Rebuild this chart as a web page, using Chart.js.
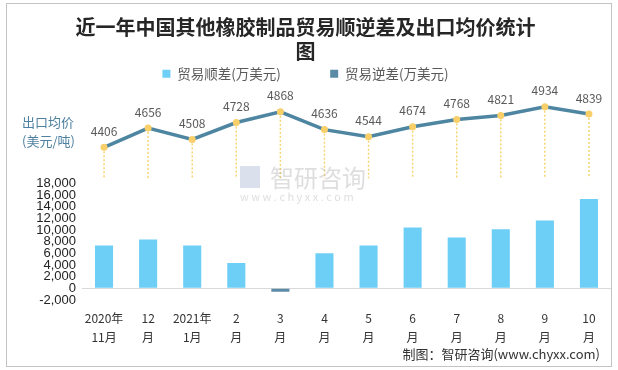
<!DOCTYPE html>
<html>
<head>
<meta charset="utf-8">
<script src="https://cdn.jsdelivr.net/npm/chart.js@4.4.1/dist/chart.umd.min.js"></script>
<style>
  html, body { margin: 0; padding: 0; background: #fff; }
  #wrap { width: 618px; height: 370px; position: relative; }
</style>
</head>
<body>
<div id="wrap"><canvas id="c" width="618" height="370"></canvas></div>
<script>
// months shown on the x axis (two lines each)
const months = [
    ['2020年', '11月'], ['12', '月'], ['2021年', '1月'], ['2', '月'], ['3', '月'], ['4', '月'],
    ['5', '月'], ['6', '月'], ['7', '月'], ['8', '月'], ['9', '月'], ['10', '月']
];
// trade surplus / deficit, 10k USD
const surplus = [7350, 8400, 7350, 4350, null, 6050, 7350, 10450, 8750, 10150, 11650, 15350];
const deficit = [null, null, null, null, -580, null, null, null, null, null, null, null];
// average export price, USD per ton
const avgPrice = [4406, 4656, 4508, 4728, 4868, 4636, 4544, 4674, 4768, 4821, 4934, 4839];
const barTicks = [18000, 16000, 14000, 12000, 10000, 8000, 6000, 4000, 2000, 0, -2000];

const textFont = '"Noto Sans CJK SC", "Noto Sans", sans-serif';
const numFont = '"Liberation Sans", Arial, sans-serif';

// drop lines, price labels, axis caption, watermark, footer, border
const extras = {
    id: 'extras',
    beforeDatasetsDraw(chart) {
        const ctx = chart.ctx;
        const y = chart.scales.y;
        const meta = chart.getDatasetMeta(2);
        ctx.save();
        ctx.strokeStyle = '#f7d46e';
        ctx.lineWidth = 1.5;
        ctx.setLineDash([2, 2]);
        const bottom = y.getPixelForValue(18900);
        meta.data.forEach(pt => {
            ctx.beginPath();
            ctx.moveTo(pt.x, pt.y);
            ctx.lineTo(pt.x, bottom);
            ctx.stroke();
        });
        ctx.restore();

        // watermark
        ctx.save();
        ctx.fillStyle = 'rgba(160,160,160,0.35)';
        ctx.font = '24px ' + textFont;
        ctx.textAlign = 'left';
        ctx.textBaseline = 'middle';
        ctx.fillText('智研咨询', 270, 178);
        ctx.font = '11px ' + textFont;
        ctx.fillText('w w w . c h y x x . c o m', 240, 197);
        ctx.fillStyle = 'rgba(150,170,200,0.35)';
        ctx.fillRect(240, 166, 20, 22);
        ctx.restore();
    },
    afterDatasetsDraw(chart) {
        const ctx = chart.ctx;
        const meta = chart.getDatasetMeta(2);
        ctx.save();
        ctx.fillStyle = '#595959';
        ctx.font = '12px ' + textFont;
        ctx.textAlign = 'center';
        ctx.textBaseline = 'bottom';
        meta.data.forEach((pt, i) => {
            ctx.fillText(String(avgPrice[i]), pt.x, pt.y - 10);
        });

        ctx.fillStyle = '#4e81a0';
        ctx.font = '13px ' + textFont;
        ctx.textAlign = 'left';
        ctx.textBaseline = 'middle';
        ctx.fillText('出口均价', 22, 122);
        ctx.fillText('(美元/吨)', 22, 141);

        ctx.fillStyle = '#333';
        ctx.font = '13px ' + textFont;
        ctx.textAlign = 'right';
        ctx.fillText('制图：智研咨询(www.chyxx.com)', 600, 354);

        ctx.strokeStyle = '#c4c4c4';
        ctx.lineWidth = 1;
        ctx.strokeRect(6.5, 3.5, 605, 363);
        ctx.restore();
    }
};

new Chart(document.getElementById('c'), {
    data: {
        labels: months,
        datasets: [
            {
                type: 'bar',
                label: '贸易顺差(万美元)',
                data: surplus,
                backgroundColor: '#6dcef6',
                yAxisID: 'y',
                barPercentage: 0.82,
                categoryPercentage: 0.5,
                order: 2
            },
            {
                type: 'bar',
                label: '贸易逆差(万美元)',
                data: deficit,
                backgroundColor: '#5b8ba6',
                yAxisID: 'y',
                barPercentage: 0.82,
                categoryPercentage: 0.5,
                order: 2
            },
            {
                type: 'line',
                label: '出口均价',
                data: avgPrice,
                yAxisID: 'y2',
                borderColor: '#4e86a2',
                borderWidth: 3.5,
                pointRadius: 3.5,
                pointBackgroundColor: '#f8cf68',
                pointBorderWidth: 0,
                tension: 0,
                order: 1
            }
        ]
    },
    options: {
        responsive: false,
        animation: false,
        layout: { padding: { left: 0, right: 7, top: 0, bottom: 20 } },
        plugins: {
            title: {
                display: true,
                text: ['近一年中国其他橡胶制品贸易顺逆差及出口均价统计', '图'],
                color: '#262626',
                font: { family: textFont, size: 20, weight: 'bold', lineHeight: '24px' },
                padding: { top: 15, bottom: 0 }
            },
            legend: {
                display: true,
                labels: {
                    generateLabels(chart) {
                        const items = Chart.defaults.plugins.legend.labels.generateLabels(chart)
                            .filter(item => item.datasetIndex < 2);
                        items[0].text = items[0].text + '               ';
                        return items;
                    },
                    boxWidth: 8,
                    boxHeight: 8,
                    color: '#595959',
                    font: { family: textFont, size: 13.5 },
                    padding: 4
                }
            },
            tooltip: { enabled: false }
        },
        scales: {
            x: {
                stacked: true,
                afterFit(scale) { scale.height = 50; },
                grid: { display: false },
                border: { display: false },
                ticks: {
                    color: '#333',
                    font: { family: textFont, size: 12, lineHeight: '19px' },
                    maxRotation: 0,
                    autoSkip: false,
                    padding: 1
                }
            },
            y: {
                stacked: true,
                min: -2000,
                max: 34000,
                afterFit(scale) { scale.width = 82; },
                afterBuildTicks(scale) {
                    scale.ticks = barTicks.map(v => ({ value: v }));
                },
                border: { display: false },
                grid: {
                    drawTicks: false,
                    color: c => (c.tick && c.tick.value === 0) ? '#d9d9d9' : 'rgba(0,0,0,0)'
                },
                ticks: {
                    color: '#222',
                    font: { family: numFont, size: 13 },
                    padding: 6,
                    callback: v => v.toLocaleString('en-US')
                }
            },
            y2: {
                display: false,
                min: 2419,
                max: 5145
            }
        }
    },
    plugins: [extras]
});
</script>
</body>
</html>
